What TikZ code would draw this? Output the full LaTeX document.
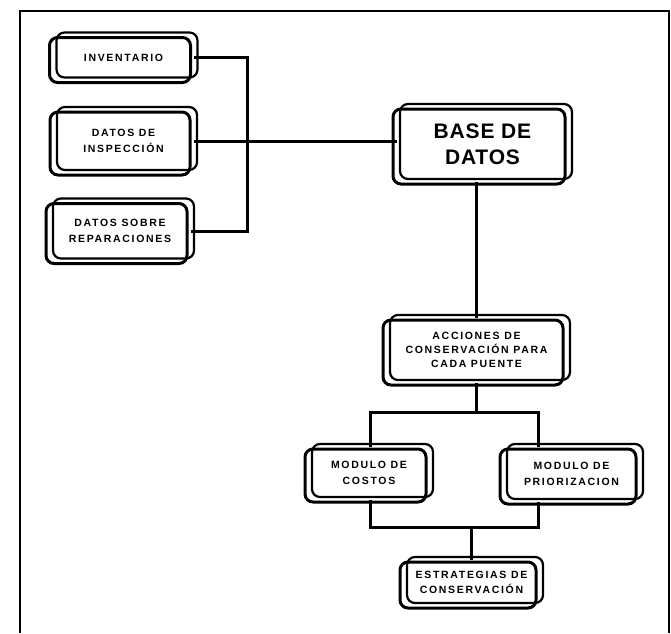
\documentclass[tikz,border=0pt]{standalone}
\usepackage{fontspec}
\setmainfont{Liberation Sans}
\newfontfamily\rotulo[LetterSpace=16]{Liberation Sans}
\newfontfamily\titulo[LetterSpace=4]{Liberation Sans}
\begin{document}
\begin{tikzpicture}[x=1pt,y=-1pt]
    \useasboundingbox (0,0) rectangle (671,633);
    % marco exterior
    \draw[line width=1.5pt] (20,633) -- (20,11) -- (669,11) -- (669,633);
    \begin{scope}
        \tikzstyle{every node}=[draw=none, align=center, outer sep=0pt, inner sep=0pt, font=\rotulo\bfseries\fontsize{10.5}{15.5}\selectfont]
        \node[minimum width=141, minimum height=45] (inv) at (123.5,57.5) {INVENTARIO};
        \node[minimum width=140, minimum height=63] (insp) at (123.5,141) {DATOS DE\\INSPECCIÓN};
        \node[minimum width=141, minimum height=60] (rep) at (120,231) {DATOS SOBRE\\REPARACIONES};
        \node[minimum width=172, minimum height=75, font=\titulo\bfseries\fontsize{21}{26}\selectfont] (base) at (482.5,144) {BASE DE\\DATOS};
        \node[minimum width=180, minimum height=65, font=\rotulo\bfseries\fontsize{10.5}{14}\selectfont] (acc) at (476.5,350) {ACCIONES DE\\CONSERVACIÓN PARA\\CADA PUENTE};
        \node[minimum width=121, minimum height=53] (cos) at (369,473) {MODULO DE\\COSTOS};
        \node[minimum width=136, minimum height=55] (pri) at (571.5,474) {MODULO DE\\PRIORIZACION};
        \node[minimum width=136, minimum height=46] (est) at (471.5,582.5) {ESTRATEGIAS DE\\CONSERVACIÓN};
    \end{scope}
    % doble contorno de cada caja
    \foreach \n in {inv,insp,rep,base,acc,cos,pri,est}{
        \draw[line width=2.2pt, rounded corners=8pt] ([shift={(3.5,-2.5)}]\n.north west) rectangle ([shift={(3.5,-2.5)}]\n.south east);
        \draw[line width=3pt, rounded corners=8pt] ([shift={(-3.5,2.5)}]\n.north west) rectangle ([shift={(-3.5,2.5)}]\n.south east);
    }
    \begin{scope}[line width=3pt]
        \coordinate (ramaA) at (370,412);
        \coordinate (ramaB) at (538,412);
        \coordinate (unionA) at (370,527);
        \coordinate (unionB) at (538,527);
        \draw (inv.east) -- ++(53,0) |- (rep.east);
        \draw (insp.east) -- (insp.east -| base.west);
        \draw (acc.north |- base.south) -- (acc.north);
        \draw (acc.south) -- (acc.south |- ramaA);
        \draw (ramaA |- cos.north) -- (ramaA) -- (ramaB) -- (ramaB |- pri.north);
        \draw (ramaA |- cos.south) -- (unionA) -- (unionB) -- (ramaB |- pri.south);
        \draw (est.north |- unionA) -- (est.north);
    \end{scope}
\end{tikzpicture}
\end{document}
